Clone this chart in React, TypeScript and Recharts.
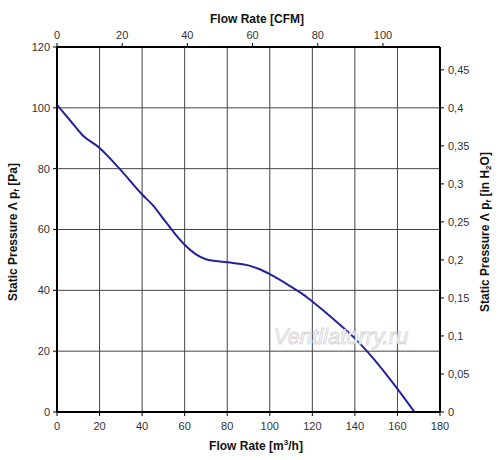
import React from 'react'
import { LineChart, Line, XAxis, YAxis, CartesianGrid } from 'recharts'

// flow rate in m³/h and static pressure in Pa
const FLOW = [0, 6, 12, 20, 30, 40, 45, 50, 55, 60, 65, 70, 80, 90, 95, 100, 110, 115, 120, 130, 140, 150, 160, 168]
const PRESSURE = [101, 96, 91, 86.8, 79.5, 71.5, 68, 63.5, 59, 55, 52, 50.2, 49.2, 48.2, 47, 45.3, 41.2, 39, 36.3, 30.5, 24.2, 16.5, 7.6, 0]

const M3H_TICKS = [0, 20, 40, 60, 80, 100, 120, 140, 160, 180]
const CFM_TICKS = [0, 20, 40, 60, 80, 100]
const PA_TICKS = [0, 20, 40, 60, 80, 100, 120]
const INH2O_TICKS = [0, 0.05, 0.1, 0.15, 0.2, 0.25, 0.3, 0.35, 0.4, 0.45]

// top scale of the chart: 180 m³/h lines up with about 117.5 CFM
const CFM_MAX = 117.5
const M3H_MAX = 180

const data = FLOW.map((f, i) => ({ flow: f, cfm: (f * CFM_MAX) / M3H_MAX, pa: PRESSURE[i], inh2o: PRESSURE[i] / 250 }))

const FONT = '"Liberation Sans", Arial, sans-serif'
const TICK = { fill: '#333', fontSize: 11, fontFamily: FONT }
const LINE = '#22229a'

const comma = (v: number) => String(v).replace('.', ',')

export default function App() {
  return (
    <div style={{ position: 'absolute', left: 0, top: 0, width: 500, height: 460, background: '#fff' }}>
      <LineChart width={500} height={460} data={data} margin={{ top: 0, right: 0, bottom: 0, left: 0 }}>
        <CartesianGrid xAxisId="bottom" yAxisId="left" stroke="#444" strokeWidth={1} />
        <XAxis xAxisId="bottom" dataKey="flow" type="number" domain={[0, M3H_MAX]} ticks={M3H_TICKS}
          allowDataOverflow orientation="bottom" height={48} tick={TICK} tickSize={4} tickMargin={6}
          axisLine={{ stroke: '#000', strokeWidth: 2 }} tickLine={{ stroke: '#000' }} />
        <XAxis xAxisId="top" dataKey="cfm" type="number" domain={[0, CFM_MAX]} ticks={CFM_TICKS} allowDataOverflow
          orientation="top" height={47} tick={TICK} tickSize={4} tickMargin={4}
          axisLine={{ stroke: '#000', strokeWidth: 2 }} tickLine={{ stroke: '#000' }} />
        <YAxis yAxisId="left" type="number" domain={[0, 120]} ticks={PA_TICKS} width={57} allowDataOverflow
          tick={TICK} tickSize={4} tickMargin={3}
          axisLine={{ stroke: '#000', strokeWidth: 2 }} tickLine={{ stroke: '#000' }} />
        <YAxis yAxisId="right" orientation="right" type="number" domain={[0, 0.48]} ticks={INH2O_TICKS}
          allowDataOverflow width={60} tick={TICK} tickSize={4} tickMargin={4} tickFormatter={comma}
          axisLine={{ stroke: '#000', strokeWidth: 2 }} tickLine={{ stroke: '#000' }} />
        {/* same curve in CFM / inH2O units, hidden, so the top and right axes have a series */}
        <Line xAxisId="top" yAxisId="right" dataKey="inh2o" type="monotone" stroke="none" dot={false}
          activeDot={false} isAnimationActive={false} />
        <Line xAxisId="bottom" yAxisId="left" dataKey="pa" type="monotone" stroke={LINE} strokeWidth={2}
          dot={false} isAnimationActive={false} />
      </LineChart>
      <svg width={500} height={460} style={{ position: 'absolute', left: 0, top: 0, pointerEvents: 'none' }}
        fontFamily={FONT}>
        <text x={257} y={23} textAnchor="middle" fontSize={12} fontWeight="bold" fill="#111">Flow Rate [CFM]</text>
        <text x={256} y={450} textAnchor="middle" fontSize={12} fontWeight="bold" fill="#111">
          Flow Rate [m<tspan fontSize={8} dy={-5}>3</tspan><tspan dy={5}>/h]</tspan>
        </text>
        <text transform="translate(17,232) rotate(-90)" textAnchor="middle" fontSize={12} fontWeight="bold" fill="#111">
          Static Pressure Λ p<tspan fontSize={8} dy={2}>f</tspan><tspan dy={-2}> [Pa]</tspan>
        </text>
        <text transform="translate(489,232) rotate(-90)" textAnchor="middle" fontSize={12} fontWeight="bold" fill="#111">
          Static Pressure Λ p<tspan fontSize={8} dy={2}>f</tspan><tspan dy={-2}> [in H</tspan>
          <tspan fontSize={8} dy={2}>2</tspan><tspan dy={-2}>O]</tspan>
        </text>
        <text x={341} y={344} textAnchor="middle" fontSize={22} fontStyle="italic" fill="#fff"
          stroke="#d8d8d8" strokeWidth={1}>Ventilatorry.ru</text>
      </svg>
    </div>
  )
}
